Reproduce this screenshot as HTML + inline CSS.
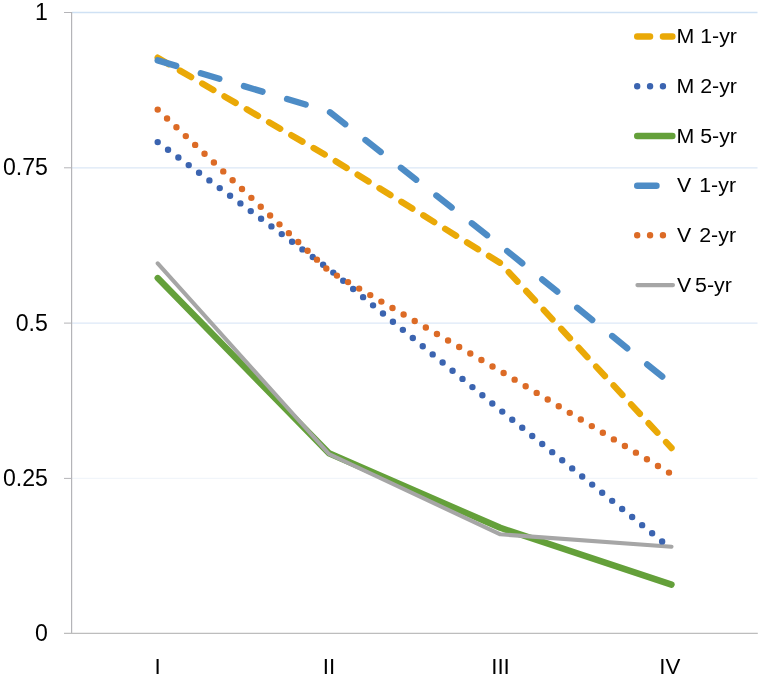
<!DOCTYPE html>
<html lang="en">
<head>
<meta charset="utf-8">
<title>Chart</title>
<style>
html,body{margin:0;padding:0;background:#fff;}
body{width:762px;height:678px;overflow:hidden;}
svg{display:block;}
text{font-family:"Liberation Sans",sans-serif;fill:#000;}
.ax{font-size:23.1px;}
.lg{font-size:19.6px;}
.xl{font-size:22.3px;}
</style>
</head>
<body>
<svg width="762" height="678" viewBox="0 0 762 678">
<rect x="0" y="0" width="762" height="678" fill="#ffffff"/>
<!-- gridlines -->
<g fill="none" stroke-width="1.3">
<line x1="72" y1="12.5" x2="757.5" y2="12.5" stroke="#cfe1f4"/>
<line x1="72" y1="167.8" x2="757.5" y2="167.8" stroke="#dbe7f6"/>
<line x1="72" y1="323.1" x2="757.5" y2="323.1" stroke="#dde8f7"/>
<line x1="72" y1="478.4" x2="757.5" y2="478.4" stroke="#f1f5fa"/>
</g>
<!-- axes -->
<g fill="none" stroke="#b4b4b8" stroke-width="1.2">
<line x1="71.6" y1="12" x2="71.6" y2="634"/>
<line x1="64" y1="633.4" x2="757.8" y2="633.4" stroke="#bdbdbd"/>
<line x1="64" y1="12.5" x2="72" y2="12.5" stroke-width="1"/>
<line x1="64" y1="167.8" x2="72" y2="167.8" stroke-width="1"/>
<line x1="64" y1="323.1" x2="72" y2="323.1" stroke-width="1"/>
<line x1="64" y1="478.4" x2="72" y2="478.4" stroke-width="1"/>
</g>
<!-- y labels -->
<g class="ax" text-anchor="end">
<text x="47.9" y="20.4">1</text>
<text x="47.9" y="175.4">0.75</text>
<text x="47.9" y="330.7">0.5</text>
<text x="47.9" y="486">0.25</text>
<text x="47.9" y="641">0</text>
</g>
<!-- x labels -->
<g class="xl" text-anchor="middle">
<text x="157.7" y="674">I</text>
<text x="329" y="674">II</text>
<text x="500.5" y="674">III</text>
<text x="669.9" y="674">IV</text>
</g>
<!-- series -->
<g fill="none" stroke-linecap="round" stroke-linejoin="round">
<polyline points="157.7,57.7 329,157 500.3,263 671.5,448" stroke="#eaa907" stroke-width="6.4" stroke-dasharray="12.87 12.87"/>
<polyline points="157.7,60.4 329,111.5 500.3,245.5 671.5,384.1" stroke="#4d8cc6" stroke-width="6.4" stroke-dasharray="19.3 25.72"/>
<polyline points="157.7,278.1 329,453.3 500.3,527.8 671.5,584.6" stroke="#64a03a" stroke-width="6.4"/>
<polyline points="157.7,263.3 329,454 500.3,534.3 671.5,546.7" stroke="#a6a6a6" stroke-width="4.1"/>
<polyline points="157.7,142.1 329,269.1 500.3,410 671.5,549" stroke="#3b64b0" stroke-width="6.4" stroke-dasharray="0 12.87"/>
<polyline points="157.7,109.6 329,271 500.3,371 671.5,474.1" stroke="#dc6b26" stroke-width="6.4" stroke-dasharray="0 12.87"/>
</g>
<!-- legend -->
<g fill="none" stroke-linecap="round">
<line x1="637.2" y1="36.5" x2="672.4" y2="36.5" stroke="#eaa907" stroke-width="6.4" stroke-dasharray="12.87 12.87"/>
<line x1="637.2" y1="86.3" x2="672.4" y2="86.3" stroke="#3b64b0" stroke-width="6.4" stroke-dasharray="0 12.87"/>
<line x1="637.2" y1="136" x2="672.4" y2="136" stroke="#64a03a" stroke-width="6.4"/>
<line x1="637.2" y1="185.7" x2="672.4" y2="185.7" stroke="#4d8cc6" stroke-width="6.4" stroke-dasharray="19.3 25.72"/>
<line x1="637.2" y1="235.3" x2="672.4" y2="235.3" stroke="#dc6b26" stroke-width="6.4" stroke-dasharray="0 12.87"/>
<line x1="637.4" y1="285.1" x2="673" y2="285.1" stroke="#a6a6a6" stroke-width="4.1"/>
</g>
<g class="lg">
<text transform="translate(676.4,43) scale(1.09,1)">M 1-yr</text>
<text transform="translate(676.4,92.7) scale(1.09,1)">M 2-yr</text>
<text transform="translate(676.4,142.5) scale(1.09,1)">M 5-yr</text>
<text transform="translate(677,192.2) scale(1.09,1)" xml:space="preserve">V  <tspan dx="-3.6">1-yr</tspan></text>
<text transform="translate(677,241.9) scale(1.09,1)" xml:space="preserve">V  <tspan dx="-3.6">2-yr</tspan></text>
<text transform="translate(677,291.7) scale(1.09,1)">V <tspan dx="-1.9">5-yr</tspan></text>
</g>
</svg>
</body>
</html>
